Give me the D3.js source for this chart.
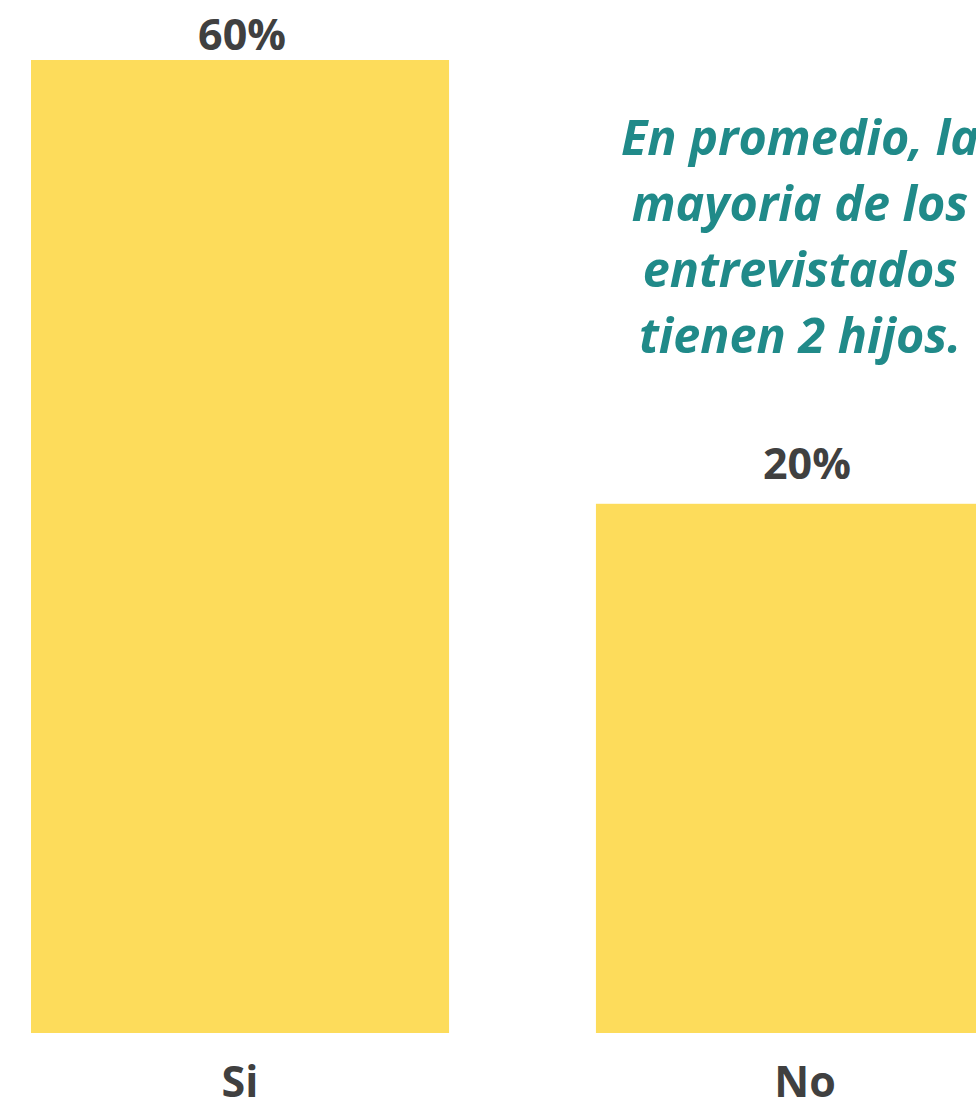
<!DOCTYPE html>
<html>
<head>
<meta charset="utf-8">
<script src="https://cdn.jsdelivr.net/npm/d3@7"></script>
<style>
  body { margin: 0; background: #fff; overflow: hidden; }
  svg { display: block; font-family: "Open Sans", sans-serif; }
</style>
</head>
<body>
<div id="chart"></div>
<script>
// 数据
const categories = ["Si", "No"];
const values = [60, 20];
const valueLabels = ["60%", "20%"];
const noteLines = ["En promedio, la", "mayoria de los", "entrevistados", "tienen 2 hijos."];

// 配置
const width = 976;
const height = 1100;
const baseY = 1033;
const topY = 60;
const yFloor = -27.7;
const barColor = "#FDDC5B";
const textColor = "#404040";
const noteColor = "#208A89";

const svg = d3.select("#chart")
  .append("svg")
  .attr("width", width)
  .attr("height", height);

const x = d3.scaleBand()
  .domain(categories)
  .range([31, 1014])
  .paddingInner(0.26);

const y = d3.scaleLinear()
  .domain([yFloor, d3.max(values)])
  .range([baseY, topY]);

const rows = categories.map((c, i) => ({ cat: c, value: values[i], label: valueLabels[i] }));

// 柱子
svg.selectAll(".bar")
  .data(rows)
  .join("rect")
  .attr("class", "bar")
  .attr("x", d => x(d.cat))
  .attr("y", d => y(d.value))
  .attr("width", x.bandwidth())
  .attr("height", d => baseY - y(d.value))
  .attr("fill", barColor);

// 数值标签
svg.selectAll(".value-label")
  .data(rows)
  .join("text")
  .attr("class", "value-label")
  .attr("x", d => x(d.cat) + x.bandwidth() / 2 + 2)
  .attr("y", d => Math.max(y(d.value) - 25, 50))
  .attr("text-anchor", "middle")
  .style("font-size", "43px")
  .style("font-weight", "700")
  .style("fill", textColor)
  .text(d => d.label);

// 类别标签
svg.selectAll(".cat-label")
  .data(rows)
  .join("text")
  .attr("class", "cat-label")
  .attr("x", d => x(d.cat) + x.bandwidth() / 2)
  .attr("y", 1097)
  .attr("text-anchor", "middle")
  .style("font-size", "43px")
  .style("font-weight", "700")
  .style("fill", textColor)
  .text(d => d.cat);

// 注释文字
svg.append("text")
  .attr("x", 800)
  .attr("y", 155)
  .attr("text-anchor", "middle")
  .style("font-size", "48.5px")
  .style("font-weight", "700")
  .style("font-style", "italic")
  .style("fill", noteColor)
  .selectAll("tspan")
  .data(noteLines)
  .join("tspan")
  .attr("x", 800)
  .attr("dy", (d, i) => i === 0 ? 0 : 66)
  .text(d => d);
</script>
</body>
</html>
